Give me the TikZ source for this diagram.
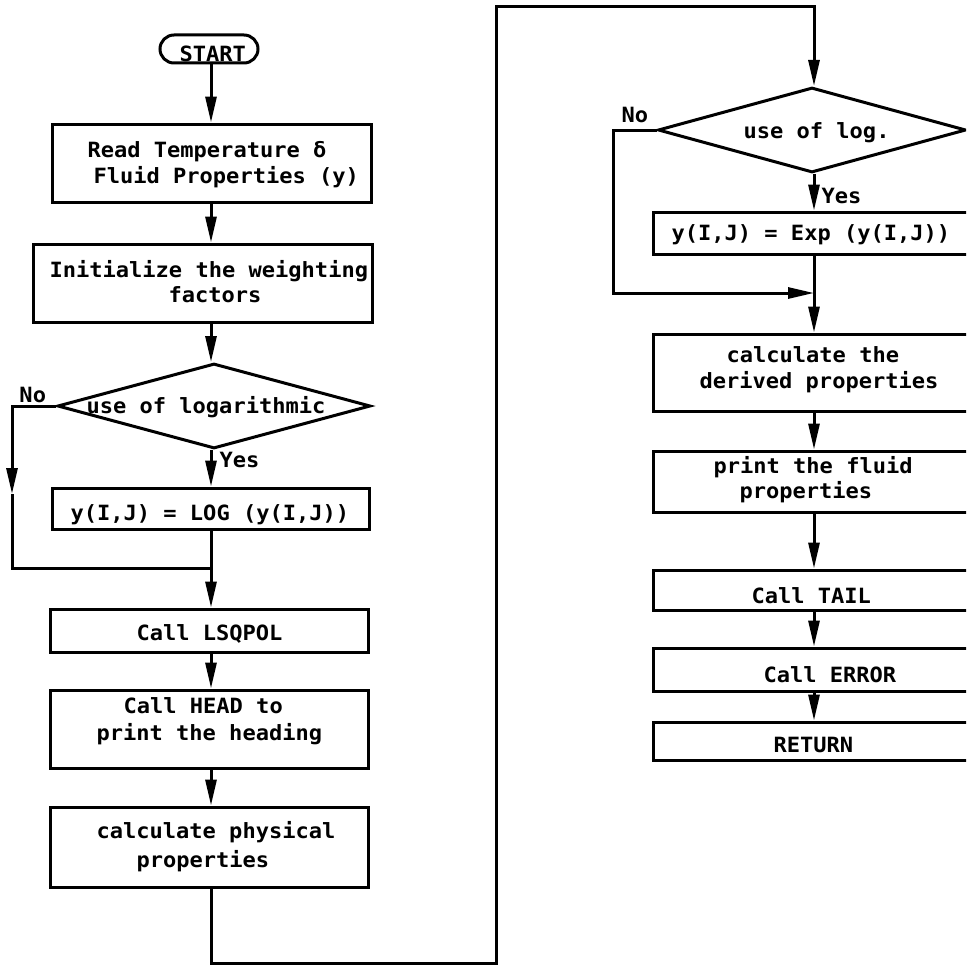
\documentclass[tikz,border=0pt]{standalone}
\usepackage{fontspec}
\newfontfamily\pf[FakeStretch=1.05]{DejaVu Sans Mono}
\usetikzlibrary{arrows.meta,shapes.geometric}
\begin{document}
\begin{tikzpicture}[x=1pt,y=-1pt,
  line width=3pt,
  box/.style={draw, rectangle, inner sep=0pt},
  dia/.style={draw, diamond, inner sep=0pt},
  lbl/.style={anchor=base west, inner sep=0pt, font={\fontsize{21}{25}\selectfont\pf\bfseries}},
  arr/.style={-{Triangle[length=26pt,width=11pt]}}]
\useasboundingbox (0,0) rectangle (966,966);
\clip (0,0) rectangle (966,966);
\fill[white] (0,0) rectangle (966,966);
% column references
\coordinate (colL) at (211,0);
\coordinate (colR) at (814,0);
% left column
\node[draw, rounded corners=14pt, minimum width=98pt, minimum height=28pt, inner sep=0pt] (start) at (209,49) {};
\node[box, minimum width=319pt, minimum height=78pt] (b1) at (211.5,163) {};
\node[box, minimum width=339pt, minimum height=78pt] (b2) at (202.5,283) {};
\node[dia, minimum width=313pt, minimum height=85pt] (d1) at (214,406) {};
\node[box, minimum width=317pt, minimum height=41pt] (b3) at (210.5,508.5) {};
\node[box, minimum width=318pt, minimum height=43pt] (b4) at (209,630.5) {};
\node[box, minimum width=318pt, minimum height=78pt] (b5) at (209,729) {};
\node[box, minimum width=318pt, minimum height=80pt] (b6) at (209,847) {};
% right column
\node[dia, minimum width=308pt, minimum height=85pt] (d2) at (812,130) {};
\node[box, minimum width=337pt, minimum height=42pt] (b7) at (821.5,233) {};
\node[box, minimum width=337pt, minimum height=77pt] (b8) at (821.5,372.5) {};
\node[box, minimum width=337pt, minimum height=61pt] (b9) at (821.5,481.5) {};
\node[box, minimum width=337pt, minimum height=40pt] (b10) at (821.5,590) {};
\node[box, minimum width=337pt, minimum height=43pt] (b11) at (821.5,669.5) {};
\node[box, minimum width=337pt, minimum height=38pt] (b12) at (821.5,741) {};
% texts
\node[lbl] (tstart) at (178,62) {START};
\node[lbl] (t1a) at (86,157) {Read Temperature δ};
\node[lbl] (t1b) at (92,183) {Fluid Properties (y)};
\node[lbl] (t2a) at (48,277) {Initialize the weighting};
\node[lbl] (t2b) at (167,302) {factors};
\node[lbl] (td1) at (85,413) {use of logarithmic};
\node[lbl] (tno1) at (18,402) {No};
\node[lbl] (tyes1) at (218,467) {Yes};
\node[lbl] (t3) at (69,520) {y(I,J) = LOG (y(I,J))};
\node[lbl] (t4) at (135,640) {Call LSQPOL};
\node[lbl] (t5a) at (122,713) {Call HEAD to};
\node[lbl] (t5b) at (95,740) {print the heading};
\node[lbl] (t6a) at (95,838) {calculate physical};
\node[lbl] (t6b) at (135,867) {properties};
\node[lbl] (tno2) at (620,122) {No};
\node[lbl] (td2) at (742,138) {use of log.};
\node[lbl] (tyes2) at (820,203) {Yes};
\node[lbl] (t7) at (670,240) {y(I,J) = Exp (y(I,J))};
\node[lbl] (t8a) at (725,362) {calculate the};
\node[lbl] (t8b) at (698,388) {derived properties};
\node[lbl] (t9a) at (712,473) {print the fluid};
\node[lbl] (t9b) at (738,498) {properties};
\node[lbl] (t10) at (750,603) {Call TAIL};
\node[lbl] (t11) at (762,682) {Call ERROR};
\node[lbl] (t12) at (772,752) {RETURN};
% helper coordinates
\coordinate (n1a) at (12,406);
\coordinate (n1b) at (12,494);
\coordinate (n1c) at (12,568);
\coordinate (m1) at (211,568);
\coordinate (l1) at (211,963);
\coordinate (l2) at (496,963);
\coordinate (l3) at (496,7);
\coordinate (l4) at (814,7);
\coordinate (n2a) at (613,130);
\coordinate (n2b) at (613,293);
\coordinate (m2) at (814,293);
% left connectors
\draw[arr] (start.south -| colL) -- (b1.north -| colL);
\draw[arr] (b1.south -| colL) -- (b2.north -| colL);
\draw[arr] (b2.south -| colL) -- (d1.north -| colL);
\draw[arr] (d1.south -| colL) -- (b3.north -| colL);
\draw[arr] (d1.west) -- (n1a) -- (n1b);
\draw (n1b) -- (n1c) -- (m1);
\draw[arr] (b3.south -| colL) -- (b4.north -| colL);
\draw[arr] (b4.south -| colL) -- (b5.north -| colL);
\draw[arr] (b5.south -| colL) -- (b6.north -| colL);
\draw[arr] (b6.south -| colL) -- (l1) -- (l2) -- (l3) -- (l4) -- (d2.north -| colR);
% right connectors
\draw[arr] (d2.south -| colR) -- (b7.north -| colR);
\draw[arr] (d2.west) -- (n2a) -- (n2b) -- (m2);
\draw[arr] (b7.south -| colR) -- (b8.north -| colR);
\draw[arr] (b8.south -| colR) -- (b9.north -| colR);
\draw[arr] (b9.south -| colR) -- (b10.north -| colR);
\draw[arr] (b10.south -| colR) -- (b11.north -| colR);
\draw[arr] (b11.south -| colR) -- (b12.north -| colR);
\end{tikzpicture}
\end{document}
